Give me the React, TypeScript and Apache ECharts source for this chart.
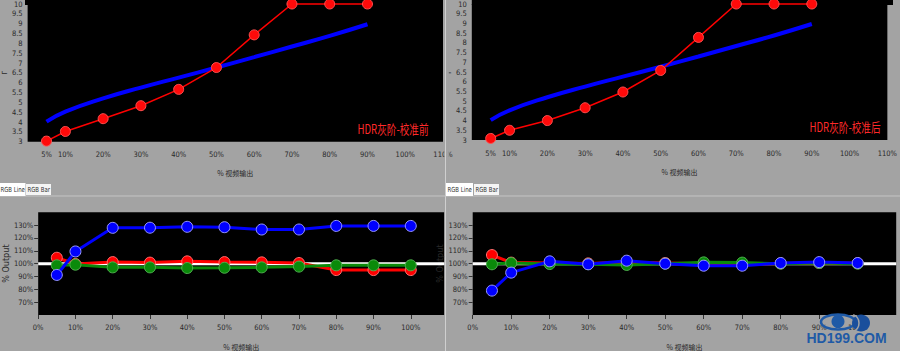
import React, { useEffect, useRef } from "react";
import * as echarts from "echarts";

// ---- data ----
const gammaX = [5, 10, 20, 30, 40, 50, 60, 70, 80, 90];
const gammaTarget = [4.02, 4.53, 5.2, 5.75, 6.26, 6.77, 7.3, 7.84, 8.38, 8.97];
const gammaBefore = [3.03, 3.52, 4.17, 4.83, 5.66, 6.77, 8.43, 10, 10, 10];
const gammaAfter = [3.08, 3.5, 4.0, 4.66, 5.47, 6.58, 8.28, 10, 10, 10];
const gammaXTicks = [5, 10, 20, 30, 40, 50, 60, 70, 80, 90, 100, 110];

const rgbX = [5, 10, 20, 30, 40, 50, 60, 70, 80, 90, 100];
const redBefore = [104.6, 99.7, 101.2, 100.8, 101.8, 101.2, 101, 100.5, 95, 95, 95];
const greenBefore = [98.7, 99.2, 97.1, 97.1, 96.6, 96.8, 97.1, 97.7, 98.7, 98.7, 98.7];
const blueBefore = [91.2, 109.5, 127.9, 128, 128.7, 128.4, 126.6, 126.6, 129.4, 129.4, 129.4];
const redAfter = [106.7, 100.8, 100.6, 100.2, 101, 100.5, 100, 99.8, 100.2, 100.5, 100.3];
const greenAfter = [99.5, 100.5, 99.7, 99.6, 99, 100, 101, 100.8, 100, 100.5, 100];
const blueAfter = [79, 93, 101.8, 99.5, 102.3, 100, 98.4, 98.4, 100.5, 101.2, 100.5];
const rgbXTicks = [0, 10, 20, 30, 40, 50, 60, 70, 80, 90, 100];
const rgbYTicks = [70, 80, 90, 100, 110, 120, 130];
const refX = [0, 110];
const refY = [100, 100];

const titleBefore = "HDR灰阶-校准前";
const titleAfter = "HDR灰阶-校准后";
const xName = "% 视频输出";

const pairs = (xs: number[], ys: number[]) => xs.map((x, i) => [x, ys[i]]);

const BG = "#a3a3a3";
const LABEL = "#2a2a2a";
const FONT = "'Liberation Sans Narrow', 'DejaVu Sans Condensed', 'Liberation Sans', sans-serif";
const CJK = "'Noto Sans CJK SC', sans-serif";

function gammaXAxis(gridIndex: number) {
  return {
    type: "value",
    gridIndex,
    min: 0,
    max: 110,
    interval: 10,
    name: xName,
    nameLocation: "middle",
    nameGap: 28,
    nameTextStyle: { fontSize: 7, color: LABEL, fontFamily: CJK },
    axisLine: { show: false },
    axisTick: { show: false },
    splitLine: { show: false },
    axisLabel: {
      customValues: gammaXTicks,
      formatter: (v: number) => v + "%",
      fontSize: 7.5,
      color: LABEL,
      fontFamily: FONT,
      margin: 9,
    },
  };
}

function gammaYAxis(gridIndex: number) {
  return {
    type: "value",
    gridIndex,
    min: 3,
    max: 10,
    interval: 0.5,
    name: "Γ",
    nameLocation: "middle",
    nameRotate: 90,
    nameGap: 17,
    nameTextStyle: { fontSize: 7, color: LABEL },
    axisLine: { show: false },
    axisTick: { show: false },
    splitLine: { show: false },
    axisLabel: { fontSize: 7.5, color: LABEL, fontFamily: FONT, margin: 5 },
  };
}

function rgbXAxis(gridIndex: number, max: number) {
  return {
    type: "value",
    gridIndex,
    min: 0,
    max,
    interval: 10,
    name: xName,
    nameLocation: "middle",
    nameGap: 28,
    nameTextStyle: { fontSize: 7, color: LABEL, fontFamily: CJK },
    axisLine: { show: false },
    axisTick: { show: true, customValues: rgbXTicks, length: 4, lineStyle: { color: "#333" } },
    splitLine: { show: false },
    axisLabel: {
      customValues: rgbXTicks,
      formatter: (v: number) => v + "%",
      fontSize: 7.5,
      color: LABEL,
      fontFamily: FONT,
      margin: 8,
    },
  };
}

function rgbYAxis(gridIndex: number) {
  return {
    type: "value",
    gridIndex,
    min: 60,
    max: 140,
    interval: 10,
    name: "% Output",
    nameLocation: "middle",
    nameRotate: 90,
    nameGap: 17,
    nameTextStyle: { fontSize: 9, color: LABEL, fontFamily: FONT },
    axisLine: { show: false },
    axisTick: { show: true, customValues: rgbYTicks, length: 4, lineStyle: { color: "#333" } },
    splitLine: { show: false },
    axisLabel: {
      customValues: rgbYTicks,
      formatter: (v: number) => v + "%",
      fontSize: 7.5,
      color: LABEL,
      fontFamily: FONT,
      margin: 5,
    },
  };
}

function targetSeries(idx: number) {
  return {
    type: "line",
    xAxisIndex: idx,
    yAxisIndex: idx,
    data: pairs(gammaX, gammaTarget),
    smooth: true,
    showSymbol: false,
    symbol: "none",
    lineStyle: { color: "#0000ff", width: 4 },
    z: 2,
  };
}

function gammaSeries(idx: number, ys: number[]) {
  return {
    type: "line",
    xAxisIndex: idx,
    yAxisIndex: idx,
    data: pairs(gammaX, ys),
    symbol: "circle",
    symbolSize: 10,
    clip: false,
    lineStyle: { color: "#ff0000", width: 1.5 },
    itemStyle: { color: "#ff0a0a", borderColor: "#ff5050", borderWidth: 1 },
    z: 3,
  };
}

function refSeries(idx: number) {
  return {
    type: "line",
    xAxisIndex: idx,
    yAxisIndex: idx,
    data: pairs(refX, refY),
    symbol: "none",
    lineStyle: { color: "#ffffff", width: 3 },
    z: 2,
  };
}

function rgbSeries(idx: number, ys: number[], color: string, border: string, z: number) {
  return {
    type: "line",
    xAxisIndex: idx,
    yAxisIndex: idx,
    data: pairs(rgbX, ys),
    symbol: "circle",
    symbolSize: 11,
    clip: false,
    lineStyle: { color, width: 3 },
    itemStyle: { color, borderColor: border, borderWidth: 1 },
    z,
  };
}

function tabText(x: number, text: string) {
  return {
    type: "text", z: 61, x, y: 189.5, scaleX: 0.85,
    style: { text, fontSize: 7, fill: "#333", fontFamily: FONT, verticalAlign: "middle" },
  };
}

function annotation(x: number, y: number, text: string) {
  return {
    type: "text", z: 20, x, y, scaleX: 0.74,
    style: { text, fontSize: 13, fill: "#ff2a2a", fontFamily: CJK, align: "center", verticalAlign: "middle" },
  };
}

const option: any = {
  animation: false,
  backgroundColor: BG,
  textStyle: { fontFamily: FONT },
  grid: [
    { left: 25, top: 3.5, width: 418, height: 138.2, show: true, backgroundColor: "#000", borderWidth: 0 },
    { left: 471.8, top: 2.7, width: 421.2, height: 137.3, show: true, backgroundColor: "#000", borderWidth: 0 },
    { left: 25.7, top: 212.3, width: 418.6, height: 103.7, show: true, backgroundColor: "#000", borderWidth: 0 },
    { left: 472.7, top: 212.3, width: 423.5, height: 103.7, show: true, backgroundColor: "#000", borderWidth: 0 },
  ],
  xAxis: [gammaXAxis(0), gammaXAxis(1), rgbXAxis(2, 109), rgbXAxis(3, 110)],
  yAxis: [gammaYAxis(0), gammaYAxis(1), rgbYAxis(2), rgbYAxis(3)],
  series: [
    targetSeries(0),
    gammaSeries(0, gammaBefore),
    targetSeries(1),
    gammaSeries(1, gammaAfter),
    refSeries(2),
    rgbSeries(2, redBefore, "#ff0000", "#ff7070", 3),
    rgbSeries(2, greenBefore, "#0a8a0a", "#50b050", 4),
    rgbSeries(2, blueBefore, "#0000ff", "#9a9aff", 5),
    refSeries(3),
    rgbSeries(3, redAfter, "#ff0000", "#ff7070", 3),
    rgbSeries(3, greenAfter, "#0a8a0a", "#50b050", 4),
    rgbSeries(3, blueAfter, "#0000ff", "#9a9aff", 5),
  ],
  graphic: [
    // black extensions above the gamma plots
    { type: "rect", z: 0, shape: { x: 25, y: 0, width: 418, height: 5 }, style: { fill: "#000", lineWidth: 0 } },
    { type: "rect", z: 0, shape: { x: 471.8, y: 0, width: 421.2, height: 5 }, style: { fill: "#000", lineWidth: 0 } },
    // separator between halves
    { type: "rect", z: 50, shape: { x: 444.3, y: 0, width: 4.5, height: 351 }, style: { fill: BG, lineWidth: 0 } },
    { type: "line", z: 51, shape: { x1: 445.5, y1: 0, x2: 445.5, y2: 351 }, style: { stroke: "#cfcfcf", lineWidth: 1 } },
    // tab underline
    { type: "line", z: 51, shape: { x1: 0, y1: 196, x2: 900, y2: 196 }, style: { stroke: "#c4c4c4", lineWidth: 1 } },
    // tabs left
    { type: "rect", z: 60, shape: { x: 0, y: 183, width: 25.5, height: 13 }, style: { fill: "#ffffff" } },
    { type: "rect", z: 60, shape: { x: 26, y: 184, width: 25, height: 11 }, style: { fill: "#f4f4f4" } },
    tabText(0.5, "RGB Line"),
    tabText(27.5, "RGB Bar"),
    // tabs right
    { type: "rect", z: 60, shape: { x: 446, y: 183, width: 27, height: 13 }, style: { fill: "#ffffff" } },
    { type: "rect", z: 60, shape: { x: 474, y: 184, width: 25, height: 11 }, style: { fill: "#f4f4f4" } },
    tabText(447.5, "RGB Line"),
    tabText(475.5, "RGB Bar"),
    // annotations
    annotation(393, 128, titleBefore),
    annotation(845, 126, titleAfter),
    // watermark
    { type: "ellipse", z: 100, shape: { cx: 838, cy: 322, rx: 17, ry: 7.5 }, style: { fill: "none", stroke: "#1f5aa6", lineWidth: 2.5 } },
    { type: "circle", z: 101, shape: { cx: 838, cy: 321.5, r: 6.5 }, style: { fill: "#1f5aa6" } },
    { type: "ellipse", z: 100, shape: { cx: 861, cy: 323, rx: 9, ry: 8.5 }, style: { fill: "#1a4f9c" } },
    { type: "arc", z: 101, shape: { cx: 850, cy: 323, r: 9, startAngle: -1.2, endAngle: 1.2 }, style: { stroke: BG, lineWidth: 1.5, fill: "none" } },
    {
      type: "text", z: 100, x: 846.5, y: 338,
      style: { text: "HD199.COM", fontSize: 14, fontWeight: "bold", fill: "#1f5aa6", fontFamily: "'Liberation Sans', Arial, sans-serif", align: "center", verticalAlign: "middle" },
    },
  ],
};

export default function App() {
  const ref = useRef<HTMLDivElement>(null);
  useEffect(() => {
    const chart = echarts.init(ref.current!, null, { renderer: "svg" });
    chart.setOption(option);
    return () => chart.dispose();
  }, []);
  return (
    <div
      ref={ref}
      style={{ position: "absolute", left: 0, top: 0, width: 900, height: 351, background: BG }}
    />
  );
}
